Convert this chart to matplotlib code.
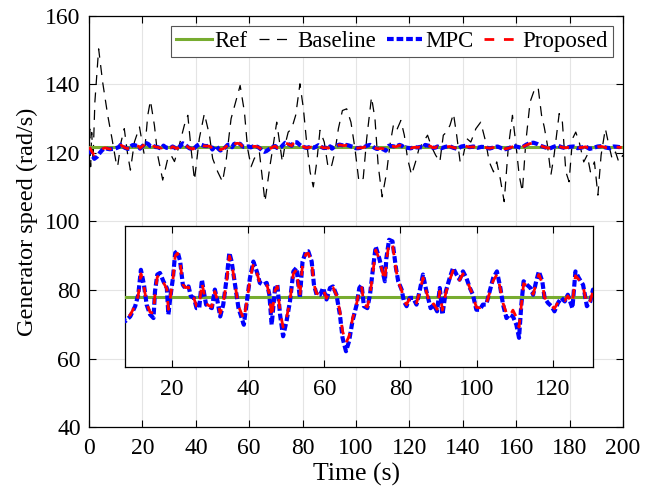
import numpy as np
import matplotlib
matplotlib.use("Agg")
import matplotlib.pyplot as plt

plt.rcParams['font.family'] = 'serif'
plt.rcParams['font.serif'] = ['Liberation Serif', 'DejaVu Serif']
plt.rcParams['font.size'] = 17

# reference generator speed (rad/s)
ref_speed = 121.7

# baseline controller response
base_t = [0.0, 0.3, 0.6, 1.0, 1.5, 2.2, 3.6, 5.1, 7.0, 8.6, 10.1, 10.7, 12.0, 13.2, 14.5, 15.5,
          17.0, 18.9, 20.7, 22.0, 23.0, 24.5, 25.7, 27.6, 29.5, 30.7, 32.0, 33.8, 35.7, 37.0,
          38.2, 39.5, 41.3, 43.2, 45.1, 46.3, 48.2, 50.0, 51.3, 53.2, 56.6, 58.2, 59.4, 60.7,
          61.9, 63.8, 65.9, 67.8, 69.0, 70.3, 71.5, 72.4, 73.4, 74.6, 75.9, 77.4, 79.0, 80.3,
          81.5, 82.8, 84.0, 85.3, 86.5, 88.1, 89.6, 90.9, 92.1, 93.4, 94.9, 96.5, 98.1, 99.6,
          101.1, 102.7, 104.0, 105.8, 107.1, 108.3, 109.8, 111.5, 112.7, 114.0, 115.2, 116.8,
          118.1, 119.3, 120.8, 122.3, 123.6, 125.2, 126.8, 128.3, 129.8, 131.4, 132.7, 133.9,
          135.2, 136.5, 137.7, 139.0, 140.2, 141.5, 143.0, 144.9, 146.7, 148.6, 149.9, 151.5,
          152.7, 154.0, 155.5, 157.0, 158.6, 159.8, 161.1, 162.3, 163.6, 165.2, 166.7, 168.2,
          169.5, 170.5, 171.7, 173.0, 174.2, 176.1, 177.3, 178.6, 179.8, 181.1, 182.3, 183.6,
          185.3, 186.6, 187.8, 189.3, 190.6, 191.8, 193.4, 194.7, 195.9, 197.2, 198.4, 200.0]
base_v = [121.7, 127.0, 116.0, 126.0, 118.0, 135.0, 150.4, 140.7, 131.0, 124.2, 117.4, 116.0, 123.2, 127.1, 119.4, 115.0,
          123.2, 127.6, 119.4, 131.0, 135.3, 128.0, 119.4, 112.1, 118.4, 119.4, 117.5, 122.3, 128.1, 131.0,
          121.3, 112.1, 124.2, 131.5, 125.2, 118.4, 114.5, 111.6, 117.4, 130.0, 139.7, 132.0, 121.3, 116.0,
          118.4, 120.3, 105.8, 116.4, 122.3, 129.0, 122.3, 117.4, 122.3, 126.1, 127.1, 131.0, 140.2, 132.9,
          123.2, 114.5, 110.1, 117.4, 126.6, 123.2, 115.5, 116.4, 120.3, 127.1, 132.4, 132.9, 129.0, 121.3,
          111.6, 112.6, 124.2, 136.3, 130.0, 116.4, 107.2, 114.5, 122.3, 128.1, 126.6, 129.5,
          125.2, 118.4, 113.6, 117.4, 121.3, 123.2, 125.2, 121.8, 119.4, 117.4, 125.2, 126.1,
          128.1, 131.5, 125.2, 117.4, 119.4, 124.2, 123.2, 127.1, 129.0, 123.2, 117.4, 114.5,
          117.4, 112.6, 105.8, 121.3, 131.0, 123.2, 113.6, 108.7, 123.2, 134.9, 138.2, 139.2,
          131.0, 127.6, 122.3, 113.6, 119.4, 131.5, 129.0, 114.5, 111.6, 124.2, 126.1, 123.2,
          117.4, 119.4, 114.5, 117.4, 107.7, 119.4, 127.1, 122.3, 118.4, 120.3, 117.4, 119.4]

# MPC and proposed controller responses (shared time axis)
ctrl_t = [0.0, 0.5, 1.2, 2.0, 3.0, 4.0, 5.0, 6.0, 7.0, 7.8, 9.1, 10.4, 11.2, 11.9, 12.7, 13.4,
          14.3, 15.2, 15.6, 16.2, 16.9, 17.8, 18.7, 19.1, 19.6, 20.3, 20.9, 21.5, 22.2, 22.9,
          23.5, 24.4, 25.0, 25.8, 26.5, 27.2, 27.9, 28.3, 29.0, 29.6, 30.5, 31.3, 32.0, 32.7,
          33.5, 34.4, 35.1, 35.7, 36.6, 37.5, 38.9, 39.6, 40.5, 41.4, 42.3, 43.1, 44.0, 44.9,
          45.6, 46.2, 47.1, 47.7, 48.4, 49.2, 50.1, 51.0, 51.9, 52.7, 53.6, 54.3, 55.2, 55.8,
          56.7, 57.3, 58.0, 58.9, 59.7, 60.6, 61.5, 62.3, 63.2, 64.1, 64.8, 65.7, 66.5, 67.4,
          68.5, 69.2, 69.8, 70.4, 71.3, 72.0, 72.8, 73.5, 74.4, 75.3, 75.9, 76.3, 77.0, 77.9,
          78.8, 79.4, 80.3, 80.9, 81.6, 82.4, 83.3, 84.2, 85.1, 85.9, 86.8, 87.9, 88.7, 89.6,
          90.3, 91.0, 91.9, 92.9, 93.8, 94.7, 95.5, 96.4, 97.3, 98.2, 99.0, 99.9, 100.8, 101.6,
          102.5, 103.4, 104.3, 105.3, 106.2, 106.9, 107.8, 108.6, 109.5, 110.4, 111.1, 111.7,
          112.3, 113.2, 114.1, 114.8, 115.6, 116.3, 117.2, 117.8, 118.7, 119.6, 120.4, 121.3,
          122.2, 123.1, 123.9, 125.1, 125.9, 126.8, 127.9, 128.9, 129.8, 130.5, 132.0, 133.5,
          135.0, 136.5, 138.0, 139.5, 141.0, 142.5, 144.0, 145.5, 147.0, 148.5, 150.0, 151.5,
          153.0, 154.5, 156.0, 157.5, 159.0, 160.5, 162.0, 163.5, 165.0, 166.5, 168.0, 169.5,
          171.0, 172.5, 174.0, 175.5, 177.0, 178.5, 180.0, 181.5, 183.0, 184.5, 186.0, 187.5,
          189.0, 190.5, 192.0, 193.5, 195.0, 196.5, 198.0, 199.5]
mpc_v = [121.5, 120.6, 119.2, 118.3, 118.9, 120.0, 120.9, 121.4, 121.2, 121.10, 121.22, 121.48, 121.77, 122.40, 122.02, 121.52,
         121.27, 121.18, 121.86, 122.28, 122.32, 122.11, 121.94, 121.27, 121.69, 122.19, 122.83, 122.87, 122.61, 122.02,
         121.94, 121.98, 121.73, 121.69, 121.43, 121.43, 122.15, 121.90, 121.52, 121.48, 121.43, 121.90, 121.60, 121.22,
         121.52, 122.19, 122.83, 122.61, 122.02, 121.43, 121.01, 121.52, 122.19, 122.61, 122.36, 122.07, 122.02, 122.07,
         121.77, 121.01, 121.94, 122.02, 121.27, 120.72, 121.10, 121.60, 122.36, 122.45, 121.69, 122.61, 122.87, 122.87,
         122.61, 122.02, 121.77, 121.77, 121.94, 121.65, 121.94, 121.98, 121.77, 121.27, 120.68, 120.34, 120.59, 121.10,
         121.52, 121.94, 122.02, 121.48, 121.43, 121.77, 122.45, 122.99, 122.70, 122.36, 122.11, 122.70, 123.16, 123.12,
         122.45, 122.11, 121.90, 121.60, 121.48, 121.69, 121.69, 121.52, 121.90, 122.28, 121.86, 121.43, 121.52, 121.35,
         121.94, 121.27, 121.86, 122.19, 122.45, 122.28, 122.15, 122.36, 122.19, 121.94, 121.77, 121.39, 121.39, 121.52,
         121.52, 121.86, 122.19, 122.36, 121.94, 121.52, 121.18, 121.27, 121.22, 121.01, 120.68, 121.52,
         122.11, 122.02, 121.94, 121.77, 122.11, 122.36, 122.11, 121.69, 121.56, 121.48, 121.35, 121.56,
         121.69, 121.60, 121.77, 121.43, 122.36, 122.19, 122.02, 121.48, 121.60, 121.90, 121.4, 121.8,
         122.0, 121.5, 121.2, 121.9, 122.1, 121.7, 121.9, 121.5, 121.8, 121.7, 121.3, 121.6,
         121.9, 121.4, 121.1, 121.5, 122.0, 121.8, 121.5, 122.3, 122.9, 123.0, 122.6, 122.0,
         121.6, 121.3, 121.8, 122.2, 121.7, 121.4, 121.8, 121.9, 121.4, 121.6, 121.9, 121.2,
         121.5, 121.9, 122.0, 121.6, 121.4, 121.9, 121.8, 121.6]
prop_v = [121.7, 121.2, 120.2, 119.4, 119.8, 120.6, 121.2, 121.5, 121.3, 121.18, 121.26, 121.50, 121.75, 122.30, 121.98, 121.55,
          121.33, 121.30, 121.80, 122.22, 122.27, 122.08, 121.92, 121.40, 121.70, 122.15, 122.75, 122.82, 122.58, 122.03,
          121.95, 121.96, 121.74, 121.68, 121.48, 121.47, 122.08, 121.88, 121.55, 121.50, 121.46, 121.85, 121.62, 121.30,
          121.55, 122.12, 122.75, 122.58, 122.02, 121.48, 121.15, 121.55, 122.14, 122.55, 122.33, 122.06, 122.00, 122.04,
          121.78, 121.20, 121.88, 121.98, 121.35, 120.95, 121.18, 121.62, 122.30, 122.40, 121.72, 122.55, 122.80, 122.82,
          122.58, 122.03, 121.80, 121.78, 121.90, 121.68, 121.90, 121.95, 121.76, 121.35, 120.85, 120.55, 120.72, 121.15,
          121.55, 121.90, 121.98, 121.52, 121.46, 121.76, 122.38, 122.90, 122.68, 122.33, 122.12, 122.62, 123.08, 123.05,
          122.42, 122.10, 121.88, 121.62, 121.52, 121.68, 121.70, 121.56, 121.86, 122.20, 121.84, 121.48, 121.54, 121.40,
          121.86, 121.38, 121.82, 122.14, 122.38, 122.25, 122.14, 122.30, 122.16, 121.94, 121.76, 121.45, 121.44, 121.54,
          121.54, 121.82, 122.12, 122.28, 121.92, 121.56, 121.30, 121.22, 121.38, 121.20, 120.95, 121.50,
          122.05, 122.00, 121.92, 121.78, 122.06, 122.28, 122.06, 121.70, 121.58, 121.50, 121.42, 121.58,
          121.68, 121.62, 121.74, 121.55, 122.25, 122.15, 121.98, 121.52, 121.62, 121.86, 121.5, 121.7,
          121.9, 121.6, 121.3, 121.8, 122.0, 121.7, 121.8, 121.6, 121.8, 121.6, 121.4, 121.6,
          121.8, 121.5, 121.2, 121.5, 121.9, 121.8, 121.6, 122.2, 122.7, 122.9, 122.5, 122.0,
          121.6, 121.4, 121.7, 122.1, 121.7, 121.5, 121.7, 121.8, 121.5, 121.6, 121.8, 121.3,
          121.5, 121.8, 121.9, 121.6, 121.5, 121.8, 121.7, 121.6]

c_ref = '#77ac30'
c_mpc = '#0000ff'
c_prop = '#ff0000'

fig = plt.figure(figsize=(6.58, 4.92), dpi=100)
ax = fig.add_axes([0.1353, 0.1321, 0.8115, 0.8354])

ax.plot(base_t, base_v, color='k', lw=0.9, dashes=(8, 6), label='Baseline', zorder=2)
ax.plot([0, 200], [ref_speed, ref_speed], color=c_ref, lw=2.2, label='Ref', zorder=3)
ax.plot(ctrl_t, mpc_v, color=c_mpc, lw=3, dashes=(1.6, 0.7), label='MPC', zorder=4)
ax.plot(ctrl_t, prop_v, color=c_prop, lw=2, dashes=(3.5, 3.5), label='Proposed', zorder=5)

ax.set_xlim(0, 200)
ax.set_ylim(40, 160)
ax.set_xticks(np.arange(0, 201, 20))
ax.set_yticks(np.arange(40, 161, 20))
ax.grid(True, color='#e4e4e4', lw=0.8)
ax.set_axisbelow(True)
ax.tick_params(direction='in', top=True, right=True, length=5, width=0.8, pad=6)
ax.tick_params(axis='x', pad=8)
for s in ax.spines.values():
    s.set_linewidth(0.9)
ax.set_xlabel('Time (s)', fontsize=18.5, labelpad=3)
ax.set_ylabel('Generator speed (rad/s)', fontsize=17.5, labelpad=5)

h, l = ax.get_legend_handles_labels()
order = [1, 0, 2, 3]
leg = ax.legend([h[i] for i in order], [l[i] for i in order], ncol=4,
                loc='upper right', bbox_to_anchor=(0.9316, 0.9472),
                bbox_transform=fig.transFigure, frameon=True, fancybox=False,
                framealpha=1, edgecolor='#555555', fontsize=16.5, handlelength=1.55,
                handletextpad=0.12, columnspacing=0.48, borderpad=0.22,
                borderaxespad=0)
leg.get_frame().set_linewidth(0.8)

# zoomed inset
axi = fig.add_axes([0.1904, 0.2547, 0.7108, 0.2853])
axi.plot([0, 200], [ref_speed, ref_speed], color=c_ref, lw=2.2, zorder=3)
axi.plot(ctrl_t, mpc_v, color=c_mpc, lw=3, dashes=(1.6, 0.7), zorder=4)
axi.plot(ctrl_t, prop_v, color=c_prop, lw=2, dashes=(3.5, 3.5), zorder=5)
axi.set_xlim(7.8, 130.5)
axi.set_ylim(119.95, 123.5)
axi.set_xticks(np.arange(20, 121, 20))
axi.set_yticks([])
axi.grid(True, axis='x', color='#e4e4e4', lw=0.8)
axi.set_axisbelow(True)
axi.tick_params(direction='in', top=True, length=5, width=0.8, pad=9)
for s in axi.spines.values():
    s.set_linewidth(0.9)

fig.savefig('out.png', dpi=100)
